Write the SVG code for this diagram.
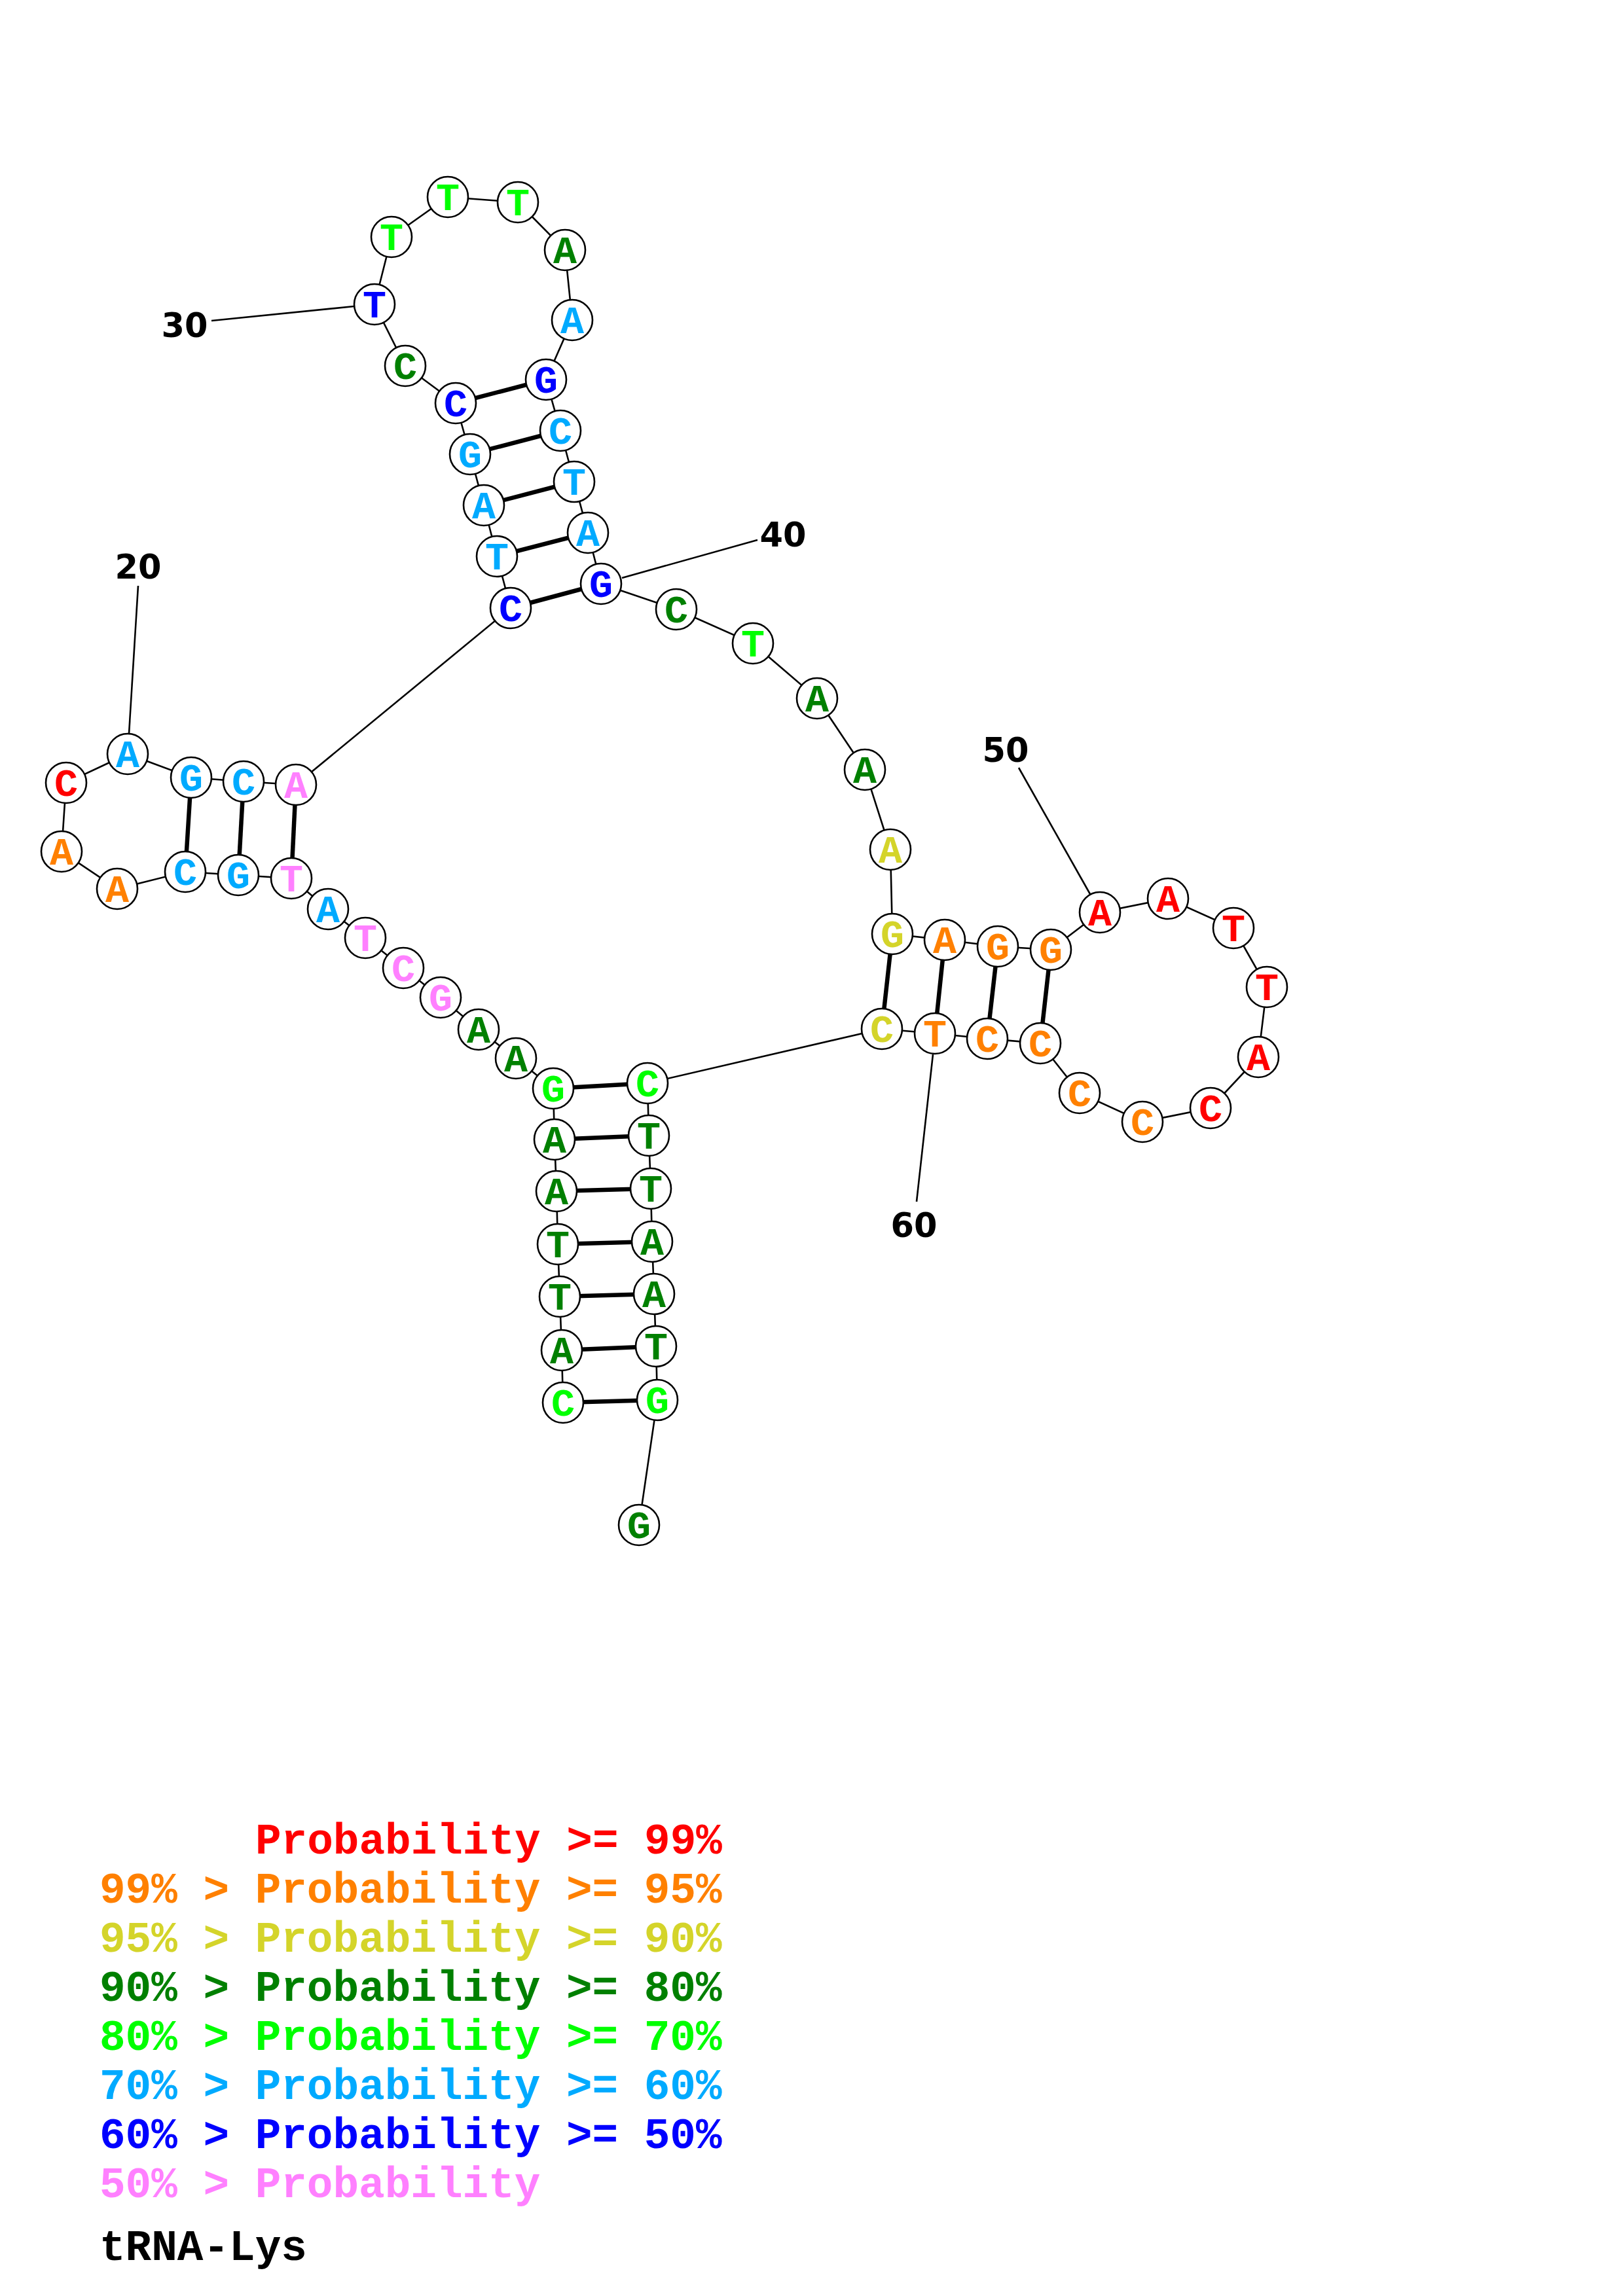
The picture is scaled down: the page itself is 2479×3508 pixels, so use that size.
<svg xmlns="http://www.w3.org/2000/svg" width="2479" height="3508" viewBox="0 0 2479 3508">
<style>
.bb{stroke:#000;stroke-width:2.6;fill:none}
.bp{stroke:#000;stroke-width:6.5;fill:none}
.nc{fill:#fff;stroke:#000;stroke-width:2.6}
.nt{font-family:"Liberation Mono","DejaVu Sans Mono",monospace;font-weight:bold;font-size:60px;text-anchor:middle}
.num{font-family:"DejaVu Sans","Liberation Sans",sans-serif;font-weight:bold;font-size:51px;text-anchor:middle;fill:#000}
.lg{font-family:"Liberation Mono","DejaVu Sans Mono",monospace;font-weight:bold;font-size:66px}
.r{fill:#FF0000}.o{fill:#FF8000}.y{fill:#D4D42A}.dg{fill:#008000}.g{fill:#00FF00}.lb{fill:#00AAFF}.b{fill:#0000FF}.p{fill:#FF80FF}
</style>
<rect width="2479" height="3508" fill="#fff"/>
<g id="connectors">
<polyline class="bb" points="860,2143 858,2063 855,1981 852,1901 850,1820 847,1741 845,1663 788,1617 731,1573 673,1524 616,1479 558,1433 501,1389 445,1342 364,1337 283,1332 179,1358 94,1301 101,1196 195,1152 292,1188 372,1194 452,1199 780,929 759,850 739,772 718,694 696,616 619,559 572,465 598,362 684,301 791,309 863,382 874,489 834,580 856,658 877,736 898,814 918,892 1033,931 1150,983 1248,1067 1321,1176 1360,1298 1363,1427 1443,1436 1524,1446 1605,1451 1680,1394 1784,1373 1884,1418 1935,1508 1922,1615 1849,1693 1745,1714 1649,1670 1589,1594 1508,1587 1428,1579 1347,1572 989,1655 991,1735 994,1816 996,1897 999,1977 1002,2057 1004,2139 976,2330"/>
<line class="bp" x1="860" y1="2143" x2="1004" y2="2139"/>
<line class="bp" x1="858" y1="2063" x2="1002" y2="2057"/>
<line class="bp" x1="855" y1="1981" x2="999" y2="1977"/>
<line class="bp" x1="852" y1="1901" x2="996" y2="1897"/>
<line class="bp" x1="850" y1="1820" x2="994" y2="1816"/>
<line class="bp" x1="847" y1="1741" x2="991" y2="1735"/>
<line class="bp" x1="845" y1="1663" x2="989" y2="1655"/>
<line class="bp" x1="445" y1="1342" x2="452" y2="1199"/>
<line class="bp" x1="364" y1="1337" x2="372" y2="1194"/>
<line class="bp" x1="283" y1="1332" x2="292" y2="1188"/>
<line class="bp" x1="780" y1="929" x2="918" y2="892"/>
<line class="bp" x1="759" y1="850" x2="898" y2="814"/>
<line class="bp" x1="739" y1="772" x2="877" y2="736"/>
<line class="bp" x1="718" y1="694" x2="856" y2="658"/>
<line class="bp" x1="696" y1="616" x2="834" y2="580"/>
<line class="bp" x1="1363" y1="1427" x2="1347" y2="1572"/>
<line class="bp" x1="1443" y1="1436" x2="1428" y2="1579"/>
<line class="bp" x1="1524" y1="1446" x2="1508" y2="1587"/>
<line class="bp" x1="1605" y1="1451" x2="1589" y2="1594"/>
<line class="bb" x1="211" y1="895" x2="197" y2="1121"/>
<line class="bb" x1="323" y1="490" x2="541" y2="468"/>
<line class="bb" x1="950" y1="883" x2="1157" y2="825"/>
<line class="bb" x1="1556" y1="1173" x2="1665" y2="1366"/>
<line class="bb" x1="1425" y1="1611" x2="1400" y2="1836"/>
</g>
<g id="n1"><circle class="nc" cx="860" cy="2143" r="31"/><text class="nt g" x="860" y="2163">C</text></g>
<g id="n2"><circle class="nc" cx="858" cy="2063" r="31"/><text class="nt dg" x="858" y="2083">A</text></g>
<g id="n3"><circle class="nc" cx="855" cy="1981" r="31"/><text class="nt dg" x="855" y="2001">T</text></g>
<g id="n4"><circle class="nc" cx="852" cy="1901" r="31"/><text class="nt dg" x="852" y="1921">T</text></g>
<g id="n5"><circle class="nc" cx="850" cy="1820" r="31"/><text class="nt dg" x="850" y="1840">A</text></g>
<g id="n6"><circle class="nc" cx="847" cy="1741" r="31"/><text class="nt dg" x="847" y="1761">A</text></g>
<g id="n7"><circle class="nc" cx="845" cy="1663" r="31"/><text class="nt g" x="845" y="1683">G</text></g>
<g id="n8"><circle class="nc" cx="788" cy="1617" r="31"/><text class="nt dg" x="788" y="1637">A</text></g>
<g id="n9"><circle class="nc" cx="731" cy="1573" r="31"/><text class="nt dg" x="731" y="1593">A</text></g>
<g id="n10"><circle class="nc" cx="673" cy="1524" r="31"/><text class="nt p" x="673" y="1544">G</text></g>
<g id="n11"><circle class="nc" cx="616" cy="1479" r="31"/><text class="nt p" x="616" y="1499">C</text></g>
<g id="n12"><circle class="nc" cx="558" cy="1433" r="31"/><text class="nt p" x="558" y="1453">T</text></g>
<g id="n13"><circle class="nc" cx="501" cy="1389" r="31"/><text class="nt lb" x="501" y="1409">A</text></g>
<g id="n14"><circle class="nc" cx="445" cy="1342" r="31"/><text class="nt p" x="445" y="1362">T</text></g>
<g id="n15"><circle class="nc" cx="364" cy="1337" r="31"/><text class="nt lb" x="364" y="1357">G</text></g>
<g id="n16"><circle class="nc" cx="283" cy="1332" r="31"/><text class="nt lb" x="283" y="1352">C</text></g>
<g id="n17"><circle class="nc" cx="179" cy="1358" r="31"/><text class="nt o" x="179" y="1378">A</text></g>
<g id="n18"><circle class="nc" cx="94" cy="1301" r="31"/><text class="nt o" x="94" y="1321">A</text></g>
<g id="n19"><circle class="nc" cx="101" cy="1196" r="31"/><text class="nt r" x="101" y="1216">C</text></g>
<g id="n20"><circle class="nc" cx="195" cy="1152" r="31"/><text class="nt lb" x="195" y="1172">A</text></g>
<g id="n21"><circle class="nc" cx="292" cy="1188" r="31"/><text class="nt lb" x="292" y="1208">G</text></g>
<g id="n22"><circle class="nc" cx="372" cy="1194" r="31"/><text class="nt lb" x="372" y="1214">C</text></g>
<g id="n23"><circle class="nc" cx="452" cy="1199" r="31"/><text class="nt p" x="452" y="1219">A</text></g>
<g id="n24"><circle class="nc" cx="780" cy="929" r="31"/><text class="nt b" x="780" y="949">C</text></g>
<g id="n25"><circle class="nc" cx="759" cy="850" r="31"/><text class="nt lb" x="759" y="870">T</text></g>
<g id="n26"><circle class="nc" cx="739" cy="772" r="31"/><text class="nt lb" x="739" y="792">A</text></g>
<g id="n27"><circle class="nc" cx="718" cy="694" r="31"/><text class="nt lb" x="718" y="714">G</text></g>
<g id="n28"><circle class="nc" cx="696" cy="616" r="31"/><text class="nt b" x="696" y="636">C</text></g>
<g id="n29"><circle class="nc" cx="619" cy="559" r="31"/><text class="nt dg" x="619" y="579">C</text></g>
<g id="n30"><circle class="nc" cx="572" cy="465" r="31"/><text class="nt b" x="572" y="485">T</text></g>
<g id="n31"><circle class="nc" cx="598" cy="362" r="31"/><text class="nt g" x="598" y="382">T</text></g>
<g id="n32"><circle class="nc" cx="684" cy="301" r="31"/><text class="nt g" x="684" y="321">T</text></g>
<g id="n33"><circle class="nc" cx="791" cy="309" r="31"/><text class="nt g" x="791" y="329">T</text></g>
<g id="n34"><circle class="nc" cx="863" cy="382" r="31"/><text class="nt dg" x="863" y="402">A</text></g>
<g id="n35"><circle class="nc" cx="874" cy="489" r="31"/><text class="nt lb" x="874" y="509">A</text></g>
<g id="n36"><circle class="nc" cx="834" cy="580" r="31"/><text class="nt b" x="834" y="600">G</text></g>
<g id="n37"><circle class="nc" cx="856" cy="658" r="31"/><text class="nt lb" x="856" y="678">C</text></g>
<g id="n38"><circle class="nc" cx="877" cy="736" r="31"/><text class="nt lb" x="877" y="756">T</text></g>
<g id="n39"><circle class="nc" cx="898" cy="814" r="31"/><text class="nt lb" x="898" y="834">A</text></g>
<g id="n40"><circle class="nc" cx="918" cy="892" r="31"/><text class="nt b" x="918" y="912">G</text></g>
<g id="n41"><circle class="nc" cx="1033" cy="931" r="31"/><text class="nt dg" x="1033" y="951">C</text></g>
<g id="n42"><circle class="nc" cx="1150" cy="983" r="31"/><text class="nt g" x="1150" y="1003">T</text></g>
<g id="n43"><circle class="nc" cx="1248" cy="1067" r="31"/><text class="nt dg" x="1248" y="1087">A</text></g>
<g id="n44"><circle class="nc" cx="1321" cy="1176" r="31"/><text class="nt dg" x="1321" y="1196">A</text></g>
<g id="n45"><circle class="nc" cx="1360" cy="1298" r="31"/><text class="nt y" x="1360" y="1318">A</text></g>
<g id="n46"><circle class="nc" cx="1363" cy="1427" r="31"/><text class="nt y" x="1363" y="1447">G</text></g>
<g id="n47"><circle class="nc" cx="1443" cy="1436" r="31"/><text class="nt o" x="1443" y="1456">A</text></g>
<g id="n48"><circle class="nc" cx="1524" cy="1446" r="31"/><text class="nt o" x="1524" y="1466">G</text></g>
<g id="n49"><circle class="nc" cx="1605" cy="1451" r="31"/><text class="nt o" x="1605" y="1471">G</text></g>
<g id="n50"><circle class="nc" cx="1680" cy="1394" r="31"/><text class="nt r" x="1680" y="1414">A</text></g>
<g id="n51"><circle class="nc" cx="1784" cy="1373" r="31"/><text class="nt r" x="1784" y="1393">A</text></g>
<g id="n52"><circle class="nc" cx="1884" cy="1418" r="31"/><text class="nt r" x="1884" y="1438">T</text></g>
<g id="n53"><circle class="nc" cx="1935" cy="1508" r="31"/><text class="nt r" x="1935" y="1528">T</text></g>
<g id="n54"><circle class="nc" cx="1922" cy="1615" r="31"/><text class="nt r" x="1922" y="1635">A</text></g>
<g id="n55"><circle class="nc" cx="1849" cy="1693" r="31"/><text class="nt r" x="1849" y="1713">C</text></g>
<g id="n56"><circle class="nc" cx="1745" cy="1714" r="31"/><text class="nt o" x="1745" y="1734">C</text></g>
<g id="n57"><circle class="nc" cx="1649" cy="1670" r="31"/><text class="nt o" x="1649" y="1690">C</text></g>
<g id="n58"><circle class="nc" cx="1589" cy="1594" r="31"/><text class="nt o" x="1589" y="1614">C</text></g>
<g id="n59"><circle class="nc" cx="1508" cy="1587" r="31"/><text class="nt o" x="1508" y="1607">C</text></g>
<g id="n60"><circle class="nc" cx="1428" cy="1579" r="31"/><text class="nt o" x="1428" y="1599">T</text></g>
<g id="n61"><circle class="nc" cx="1347" cy="1572" r="31"/><text class="nt y" x="1347" y="1592">C</text></g>
<g id="n62"><circle class="nc" cx="989" cy="1655" r="31"/><text class="nt g" x="989" y="1675">C</text></g>
<g id="n63"><circle class="nc" cx="991" cy="1735" r="31"/><text class="nt dg" x="991" y="1755">T</text></g>
<g id="n64"><circle class="nc" cx="994" cy="1816" r="31"/><text class="nt dg" x="994" y="1836">T</text></g>
<g id="n65"><circle class="nc" cx="996" cy="1897" r="31"/><text class="nt dg" x="996" y="1917">A</text></g>
<g id="n66"><circle class="nc" cx="999" cy="1977" r="31"/><text class="nt dg" x="999" y="1997">A</text></g>
<g id="n67"><circle class="nc" cx="1002" cy="2057" r="31"/><text class="nt dg" x="1002" y="2077">T</text></g>
<g id="n68"><circle class="nc" cx="1004" cy="2139" r="31"/><text class="nt g" x="1004" y="2159">G</text></g>
<g id="n69"><circle class="nc" cx="976" cy="2330" r="31"/><text class="nt dg" x="976" y="2350">G</text></g>
<g id="labels">
<text class="num" x="211" y="884">20</text>
<text class="num" x="282" y="515">30</text>
<text class="num" x="1196" y="835">40</text>
<text class="num" x="1536" y="1164">50</text>
<text class="num" x="1396" y="1890">60</text>
</g>
<g id="legend">
<text class="lg r" x="390" y="2832">Probability &gt;= 99%</text>
<text class="lg o" x="152" y="2907">99% &gt; Probability &gt;= 95%</text>
<text class="lg y" x="152" y="2982">95% &gt; Probability &gt;= 90%</text>
<text class="lg dg" x="152" y="3057">90% &gt; Probability &gt;= 80%</text>
<text class="lg g" x="152" y="3132">80% &gt; Probability &gt;= 70%</text>
<text class="lg lb" x="152" y="3207">70% &gt; Probability &gt;= 60%</text>
<text class="lg b" x="152" y="3282">60% &gt; Probability &gt;= 50%</text>
<text class="lg p" x="152" y="3357">50% &gt; Probability</text>
<text class="lg" x="152" y="3453" fill="#000">tRNA-Lys</text>
</g>
</svg>
